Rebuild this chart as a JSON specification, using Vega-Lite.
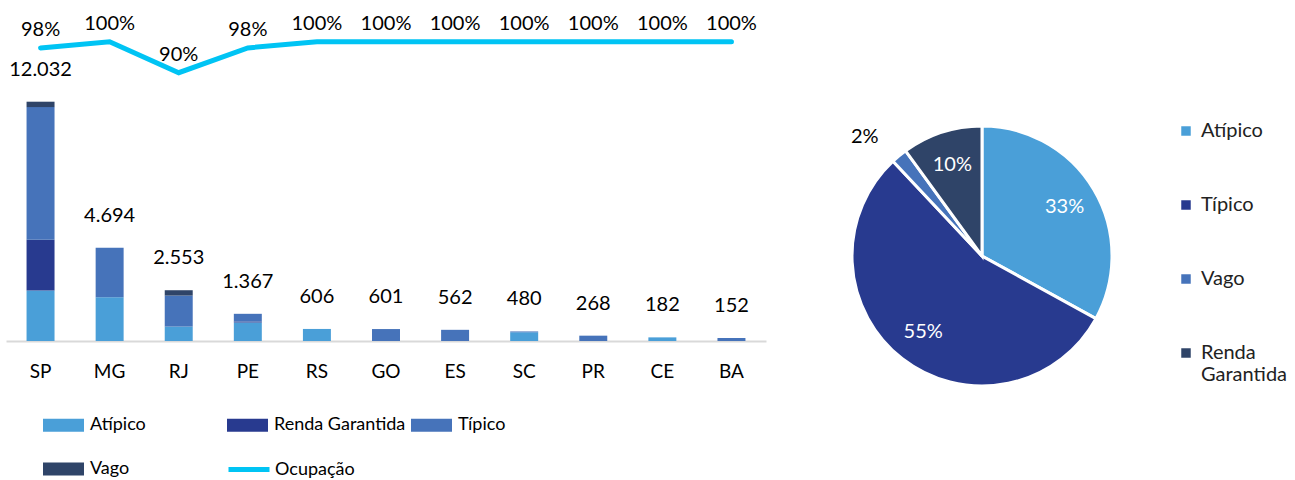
{
  "$schema": "https://vega.github.io/schema/vega-lite/v6.json",
  "padding": {"left": 6, "top": 13, "right": 0, "bottom": 0},
  "background": "white",
  "config": {
    "font": "Lato",
    "view": {"stroke": null},
    "locale": {"number": {"decimal": ",", "thousands": ".", "grouping": [3], "currency": ["R$", ""]}},
    "concat": {"spacing": 80}
  },
  "datasets": {
    "bars": [
      {"state": "SP", "cat": "Atípico", "value": 2535},
      {"state": "SP", "cat": "Renda Garantida", "value": 2555},
      {"state": "SP", "cat": "Típico", "value": 6672},
      {"state": "SP", "cat": "Vago", "value": 270},
      {"state": "MG", "cat": "Atípico", "value": 2206},
      {"state": "MG", "cat": "Típico", "value": 2488},
      {"state": "RJ", "cat": "Atípico", "value": 724},
      {"state": "RJ", "cat": "Típico", "value": 1560},
      {"state": "RJ", "cat": "Vago", "value": 269},
      {"state": "PE", "cat": "Atípico", "value": 931},
      {"state": "PE", "cat": "Renda Garantida", "value": 50},
      {"state": "PE", "cat": "Típico", "value": 386},
      {"state": "RS", "cat": "Atípico", "value": 606},
      {"state": "GO", "cat": "Típico", "value": 601},
      {"state": "ES", "cat": "Típico", "value": 562},
      {"state": "SC", "cat": "Atípico", "value": 440},
      {"state": "SC", "cat": "Típico", "value": 40},
      {"state": "PR", "cat": "Típico", "value": 268},
      {"state": "CE", "cat": "Atípico", "value": 182},
      {"state": "BA", "cat": "Típico", "value": 152}
    ],
    "occ": [
      {"state": "SP", "occ": 0.98},
      {"state": "MG", "occ": 1.0},
      {"state": "RJ", "occ": 0.9},
      {"state": "PE", "occ": 0.98},
      {"state": "RS", "occ": 1.0},
      {"state": "GO", "occ": 1.0},
      {"state": "ES", "occ": 1.0},
      {"state": "SC", "occ": 1.0},
      {"state": "PR", "occ": 1.0},
      {"state": "CE", "occ": 1.0},
      {"state": "BA", "occ": 1.0}
    ],
    "pie": [
      {"cat": "Atípico", "pct": 0.33, "ord": 1},
      {"cat": "Típico", "pct": 0.55, "ord": 2},
      {"cat": "Vago", "pct": 0.02, "ord": 3},
      {"cat": "Renda Garantida", "pct": 0.10, "ord": 4}
    ]
  },
  "hconcat": [
    {
      "width": 760,
      "height": 310,
      "layer": [
        {
          "data": {"name": "bars"},
          "mark": {"type": "bar"},
          "encoding": {
            "x": {
              "field": "state", "type": "nominal", "title": null,
              "scale": {"domain": ["SP","MG","RJ","PE","RS","GO","ES","SC","PR","CE","BA"], "paddingInner": 0.595, "paddingOuter": 0.2975},
              "axis": {"labelAngle": 0, "ticks": false, "domainColor": "#D9D9D9", "domainWidth": 2, "labelFontSize": 19, "labelColor": "#000", "labelPadding": 21, "labelFont": "Lato"}
            },
            "y": {"field": "value", "type": "quantitative", "stack": "zero", "scale": {"domain": [0, 15587], "nice": false}, "axis": null},
            "color": {
              "field": "cat", "type": "nominal",
              "scale": {"domain": ["Atípico","Renda Garantida","Típico","Vago"], "range": ["#4A9FD8","#283A8F","#4673BA","#2F4468"]},
              "legend": {"title": null, "orient": "none", "legendX": 37, "legendY": 373.5, "direction": "horizontal", "columns": 3, "gridAlign": "all", "columnPadding": 5, "rowPadding": 14, "symbolType": "M-1,-0.32H1V0.32H-1Z", "symbolSize": 1681, "symbolStrokeWidth": 0, "labelFontSize": 18, "labelColor": "#000", "labelOffset": 6, "labelFont": "Lato", "labelLimit": 300}
            },
            "order": {"field": "cat", "sort": "ascending"}
          }
        },
        {
          "data": {"name": "bars"},
          "transform": [{"aggregate": [{"op": "sum", "field": "value", "as": "total"}], "groupby": ["state"]}],
          "mark": {"type": "text", "dy": -32, "fontSize": 20, "color": "#000", "font": "Lato"},
          "encoding": {
            "x": {"field": "state", "type": "nominal"},
            "y": {"field": "total", "type": "quantitative", "scale": {"domain": [0, 15587], "nice": false}, "axis": null},
            "text": {"field": "total", "type": "quantitative", "format": ",d"}
          }
        },
        {
          "data": {"name": "occ"},
          "mark": {"type": "line", "strokeWidth": 5, "strokeCap": "round"},
          "encoding": {
            "x": {"field": "state", "type": "nominal"},
            "y": {"field": "occ", "type": "quantitative", "scale": {"domain": [0.0345, 1.0345], "nice": false, "zero": false}, "axis": null},
            "stroke": {
              "datum": "Ocupação",
              "scale": {"range": ["#00C4F4"]},
              "legend": {"title": null, "orient": "none", "legendX": 220, "legendY": 415.5, "symbolType": "stroke", "symbolSize": 1681, "symbolStrokeWidth": 5, "labelFontSize": 18, "labelColor": "#000", "labelOffset": 3, "labelFont": "Lato"}
            }
          }
        },
        {
          "data": {"name": "occ"},
          "mark": {"type": "text", "dy": -18, "fontSize": 20, "color": "#000", "font": "Lato"},
          "encoding": {
            "x": {"field": "state", "type": "nominal"},
            "y": {"field": "occ", "type": "quantitative", "scale": {"domain": [0.0345, 1.0345], "nice": false, "zero": false}, "axis": null},
            "text": {"field": "occ", "type": "quantitative", "format": ".0%"}
          }
        }
      ],
      "resolve": {"scale": {"y": "independent"}}
    },
    {
      "width": 260,
      "height": 450,
      "data": {"name": "pie"},
      "encoding": {
        "theta": {"field": "pct", "type": "quantitative", "stack": true},
        "order": {"field": "ord", "sort": "ascending"}
      },
      "layer": [
        {
          "mark": {"type": "arc", "outerRadius": 130, "stroke": "#FFFFFF", "strokeWidth": 3},
          "encoding": {
            "color": {
              "field": "cat", "type": "nominal",
              "scale": {"domain": ["Atípico","Típico","Vago","Renda Garantida"], "range": ["#4A9FD8","#283A8F","#4673BA","#2F4468"]},
              "legend": {"title": null, "orient": "none", "legendX": 324, "legendY": 90, "symbolType": "square", "symbolSize": 90, "symbolStrokeWidth": 0, "labelFontSize": 20, "labelColor": "#222", "labelOffset": 5, "labelFont": "Lato", "rowPadding": 54, "labelExpr": "datum.label == 'Renda Garantida' ? ['Renda', 'Garantida'] : datum.label"}
            }
          }
        },
        {
          "mark": {"type": "text", "fontSize": 20, "font": "Lato", "radius": {"expr": "datum.pct < 0.05 ? 165 : 96"}, "dx": {"expr": "datum.pct < 0.05 ? -12 : 0"}, "dy": {"expr": "datum.pct < 0.05 ? 8 : 0"}},
          "encoding": {
            "text": {"field": "pct", "type": "quantitative", "format": ".0%"},
            "color": {"condition": {"test": "datum.pct < 0.05", "value": "#000"}, "value": "#FFFFFF"}
          }
        }
      ]
    }
  ],
  "resolve": {"scale": {"color": "independent"}, "legend": {"color": "independent"}}
}
